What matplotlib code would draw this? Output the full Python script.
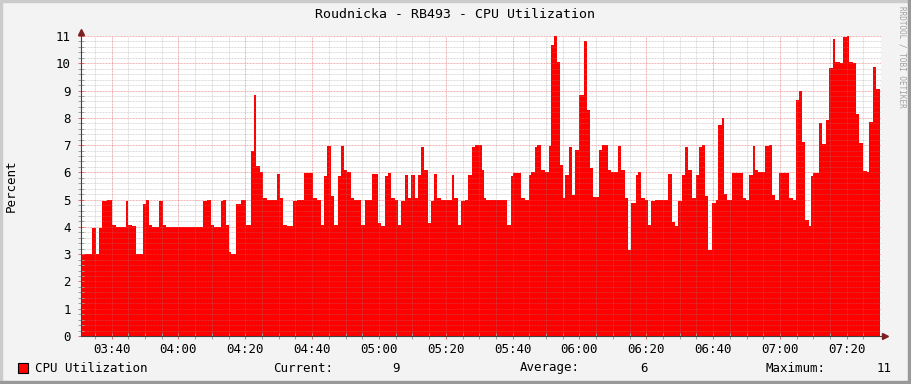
import numpy as np
import matplotlib
matplotlib.use('Agg')
import matplotlib.pyplot as plt
from matplotlib.patches import Rectangle

# CPU utilization samples
# mins = minutes after 03:30 where a new value starts, cpu = percent from there on
mins = [0.5, 1.0, 4.2, 5.3, 6.2, 7.2, 8.5, 10.2, 11.4, 14.3,
        15.0, 16.2, 17.4, 19.4, 20.4, 21.2, 22.2, 24.3, 25.3, 26.3,
        37.4, 38.4, 39.7, 40.5, 42.6, 43.4, 44.1, 45.2, 45.8, 47.2,
        48.6, 50.2, 51.6, 52.5, 53.2, 54.4, 55.2, 56.4, 59.4, 60.4,
        61.4, 62.6, 64.4, 65.6, 67.6, 70.2, 71.4, 72.6, 73.6, 74.5,
        75.6, 76.5, 77.7, 78.7, 79.5, 80.5, 81.6, 82.6, 84.6, 85.8,
        87.0, 87.8, 89.6, 90.6, 91.8, 92.6, 93.6, 94.8, 95.6, 96.6,
        97.8, 98.6, 99.6, 100.8, 101.8, 102.6, 103.6, 104.6, 105.6, 106.6,
        107.4, 108.6, 111.8, 112.6, 113.6, 114.6, 115.6, 116.6, 117.8, 118.8,
        120.7, 121.4, 122.0, 128.4, 129.4, 130.2, 132.6, 133.6, 134.8, 135.4,
        136.6, 137.4, 138.6, 139.6, 140.8, 141.6, 142.4, 143.4, 144.2, 145.0,
        145.8, 147.0, 147.8, 148.8, 150.0, 151.4, 152.4, 153.2, 154.0, 155.8,
        156.6, 158.4, 159.4, 161.6, 162.5, 163.6, 164.6, 165.4, 166.9, 167.6,
        168.4, 169.6, 170.6, 171.4, 172.6, 176.6, 177.6, 178.6, 179.6, 180.8,
        181.6, 182.4, 183.8, 184.8, 185.8, 186.8, 187.6, 188.6, 189.8, 190.8,
        191.6, 192.6, 193.4, 194.2, 195.8, 198.8, 199.8, 200.8, 201.8, 202.6,
        203.5, 205.6, 206.8, 207.6, 208.6, 209.8, 212.8, 213.8, 214.8, 215.8,
        216.6, 217.6, 218.6, 219.4, 220.0, 221.8, 222.6, 223.8, 224.8, 225.8,
        226.6, 228.0, 228.8, 230.0, 230.8, 231.8, 232.8, 233.8, 234.8, 236.0,
        236.8, 237.8, 238.8]
cpu = [3.1, 3.0, 3.95, 3.0, 3.95, 4.94, 5.0, 4.08, 4.0, 4.94,
       4.08, 4.02, 3.02, 4.85, 5.0, 4.08, 4.0, 4.94, 4.08, 4.0,
       4.94, 5.0, 4.08, 4.0, 4.94, 5.0, 4.08, 3.07, 3.0, 4.85,
       5.0, 4.08, 6.8, 8.84, 6.22, 6.0, 5.06, 5.0, 5.95, 5.06,
       4.08, 4.02, 4.94, 5.0, 5.98, 5.06, 4.98, 4.08, 5.88, 6.95,
       5.15, 4.08, 5.85, 6.95, 6.07, 6.0, 5.06, 5.0, 4.08, 4.98,
       5.0, 5.95, 4.14, 4.02, 5.85, 5.98, 5.06, 5.0, 4.08, 4.94,
       5.91, 5.06, 5.91, 5.06, 5.91, 6.93, 6.07, 4.14, 4.94, 5.95,
       5.06, 5.0, 5.91, 5.06, 4.08, 4.94, 5.0, 5.91, 6.93, 7.0,
       6.1, 5.06, 5.0, 4.08, 5.85, 5.98, 5.06, 5.0, 5.91, 6.0,
       6.93, 7.0, 6.07, 6.0, 6.95, 10.67, 11.0, 10.06, 6.28, 5.06,
       5.91, 6.93, 5.16, 6.83, 8.84, 10.82, 8.29, 6.16, 5.09, 6.83,
       7.0, 6.07, 6.0, 6.95, 6.1, 5.06, 3.15, 4.88, 5.91, 6.0,
       5.06, 5.0, 4.08, 4.94, 5.0, 5.95, 4.17, 4.02, 4.94, 5.91,
       6.93, 6.1, 5.06, 5.91, 6.93, 7.0, 5.15, 3.15, 4.88, 5.0,
       7.74, 7.99, 5.22, 5.0, 5.98, 5.06, 5.0, 5.91, 6.95, 6.07,
       6.0, 6.95, 7.0, 5.16, 5.0, 5.98, 5.06, 5.0, 8.66, 8.99,
       7.11, 4.27, 4.02, 5.88, 5.98, 7.8, 7.05, 7.93, 9.82, 10.88,
       10.06, 10.0, 10.95, 11.0, 10.06, 10.0, 8.15, 7.07, 6.04, 6.0,
       7.83, 9.88, 9.05]
end_min = 240.0

tick_mins = [10, 30, 50, 70, 90, 110, 130, 150, 170, 190, 210, 230]
tick_labels = ['03:40', '04:00', '04:20', '04:40', '05:00', '05:20',
               '05:40', '06:00', '06:20', '06:40', '07:00', '07:20']

# legend numbers as printed under the graph
current_val = 9
average_val = 6
maximum_val = 11

MONO = 'DejaVu Sans Mono'
FS = 9
plt.rcParams['font.family'] = MONO

W, H = 911, 384
fig = plt.figure(figsize=(W / 100, H / 100), dpi=100)
fig.patch.set_facecolor('#F3F3F3')

# rrdtool style 3d frame
fig.patches.append(Rectangle((0, 0), 2 / W, 1, transform=fig.transFigure, color='#CBCBCB', zorder=0))
fig.patches.append(Rectangle((0, 1 - 2 / H), 1, 2 / H, transform=fig.transFigure, color='#CBCBCB', zorder=0))
fig.patches.append(Rectangle((1 - 3 / W, 0), 3 / W, 1, transform=fig.transFigure, color='#999999', zorder=0))
fig.patches.append(Rectangle((0, 0), 1, 3 / H, transform=fig.transFigure, color='#999999', zorder=0))

ax_l, ax_r, ax_t, ax_b = 80.5, 880.5, 36, 336
ax = fig.add_axes([ax_l / W, (H - ax_b) / H, (ax_r - ax_l) / W, (ax_b - ax_t) / H])
ax.set_facecolor('white')

x = mins + [end_min]
y = cpu + [cpu[-1]]
ax.fill_between(x, y, 0, step='post', color='#FF0000', linewidth=0, zorder=1)

ax.set_xlim(0.67, 240.1)
ax.set_ylim(0, 11)

ax.set_xticks(tick_mins)
ax.set_xticklabels(tick_labels)
ax.set_xticks([m for m in range(5, 240, 5) if m not in tick_mins], minor=True)
ax.set_yticks(range(0, 12))
ax.set_yticks([v / 5 for v in range(0, 56) if v % 5 != 0], minor=True)

ax.set_axisbelow(False)
ax.grid(which='minor', color='#8F8F8F', alpha=0.3, linewidth=0.72, linestyle=(0, (2, 1)))
ax.grid(which='major', color='#DE5050', alpha=0.42, linewidth=0.72, linestyle=(0, (2, 1)))

ax.tick_params(which='major', direction='inout', length=4, width=0.7, color='#E07070',
               labelsize=FS, pad=3)
ax.tick_params(which='minor', direction='inout', length=4, width=0.7, color='#A0A0A0')
ax.tick_params(axis='y', which='major', pad=5)

for s in ax.spines.values():
    s.set_visible(False)

# axis lines with arrows
ax.plot([0, 0], [0, 1.01], transform=ax.transAxes, color='#404040', lw=0.8, clip_on=False, zorder=5)
ax.plot([0, 1.004], [0, 0], transform=ax.transAxes, color='#404040', lw=0.8, clip_on=False, zorder=5)
ax.plot([0], [1.0143], marker='^', ms=4.5, color='#7F2020', transform=ax.transAxes, clip_on=False, zorder=6)
ax.plot([1.0056], [0], marker='>', ms=4.5, color='#7F2020', transform=ax.transAxes, clip_on=False, zorder=6)

fig.text(455 / W, 1 - 14 / H, 'Roudnicka - RB493 - CPU Utilization', ha='center', va='center', fontsize=9.5)
fig.text(11 / W, 1 - 186 / H, 'Percent', rotation=90, ha='center', va='center', fontsize=FS)
fig.text(902 / W, 1 - 6 / H, 'RRDTOOL / TOBI OETIKER', rotation=270, ha='center', va='top',
         fontsize=5.5, color='#A0A0A0')

# legend row
ly = 1 - 368 / H
fig.patches.append(Rectangle((17.5 / W, 1 - 373 / H), 10 / W, 10 / H, transform=fig.transFigure,
                             facecolor='#FF0000', edgecolor='black', linewidth=0.8))
fig.text(35 / W, ly, 'CPU Utilization', ha='left', va='center', fontsize=FS)
fig.text(273 / W, ly, 'Current:', ha='left', va='center', fontsize=FS)
fig.text(400 / W, ly, '%d' % current_val, ha='right', va='center', fontsize=FS)
fig.text(520 / W, ly, 'Average:', ha='left', va='center', fontsize=FS)
fig.text(648 / W, ly, '%d' % average_val, ha='right', va='center', fontsize=FS)
fig.text(766 / W, ly, 'Maximum:', ha='left', va='center', fontsize=FS)
fig.text(892 / W, ly, '%d' % maximum_val, ha='right', va='center', fontsize=FS)

fig.savefig('out.png', dpi=100, facecolor=fig.get_facecolor())
